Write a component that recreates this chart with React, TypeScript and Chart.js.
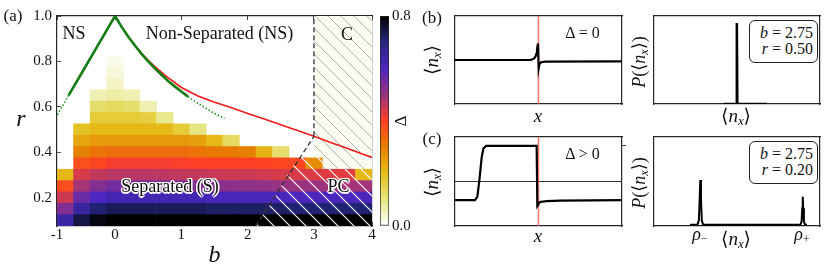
import React, { useEffect, useRef } from "react";
import { Chart, registerables } from "chart.js";

Chart.register(...registerables);

const SERIF = "'Liberation Serif', 'DejaVu Serif', 'Times New Roman', serif";
const INK = "#111111";
const FRAME = "#262626";
const N = null;

// ---------------- Panel (a): Δ over (b, r) ----------------
const heatB = [-0.75, -0.5, -0.25, 0, 0.25, 0.5, 0.75, 1, 1.25, 1.5, 1.75, 2, 2.25, 2.5, 2.75, 3, 3.25, 3.5, 3.75];
const heatR = [0.1, 0.15, 0.2, 0.25, 0.3, 0.35, 0.4, 0.45, 0.5, 0.55, 0.6, 0.65, 0.7, 0.75, 0.8];
const delta_r010 = [0.64, 0.745, 0.785, 0.8, 0.8, 0.8, 0.8, 0.8, 0.8, 0.8, 0.8, 0.8, 0.8, 0.8, 0.8, 0.8, 0.8, 0.8, 0.8];
const delta_r015 = [0.53, 0.65, 0.71, 0.73, 0.73, 0.73, 0.73, 0.73, 0.73, 0.72, 0.72, 0.72, 0.72, 0.72, 0.71, 0.71, 0.71, 0.71, 0.71];
const delta_r020 = [0.45, 0.56, 0.6, 0.62, 0.62, 0.62, 0.62, 0.62, 0.62, 0.61, 0.61, 0.61, 0.61, 0.61, 0.6, 0.6, 0.6, 0.6, 0.6];
const delta_r025 = [0.38, 0.49, 0.53, 0.55, 0.545, 0.54, 0.54, 0.535, 0.53, 0.525, 0.52, 0.515, 0.51, 0.505, 0.5, 0.5, 0.495, 0.49, 0.49];
const delta_r030 = [0.21, 0.44, 0.46, 0.47, 0.47, 0.47, 0.465, 0.46, 0.46, 0.455, 0.45, 0.45, 0.445, 0.44, 0.44, 0.435, 0.43, 0.43, 0.21];
const delta_r035 = [N, 0.375, 0.39, 0.41, 0.41, 0.41, 0.41, 0.405, 0.4, 0.4, 0.4, 0.4, 0.395, 0.39, 0.39, 0.28, N, N, N];
const delta_r040 = [N, 0.3, 0.32, 0.33, 0.33, 0.33, 0.33, 0.33, 0.32, 0.31, 0.31, 0.3, 0.22, 0.12, N, N, N, N, N];
const delta_r045 = [N, 0.24, 0.26, 0.26, 0.26, 0.26, 0.26, 0.26, 0.25, 0.21, 0.13, N, N, N, N, N, N, N, N];
const delta_r050 = [N, 0.19, 0.21, 0.21, 0.21, 0.21, 0.21, 0.17, 0.1, N, N, N, N, N, N, N, N, N, N];
const delta_r055 = [N, N, 0.17, 0.17, 0.17, 0.16, 0.09, N, N, N, N, N, N, N, N, N, N, N, N];
const delta_r060 = [N, N, 0.12, 0.13, 0.12, 0.06, N, N, N, N, N, N, N, N, N, N, N, N, N];
const delta_r065 = [N, N, 0.06, 0.07, 0.06, N, N, N, N, N, N, N, N, N, N, N, N, N, N];
const delta_r070 = [N, N, N, 0.045, N, N, N, N, N, N, N, N, N, N, N, N, N, N, N];
const delta_r075 = [N, N, N, 0.03, N, N, N, N, N, N, N, N, N, N, N, N, N, N, N];
const delta_r080 = [N, N, N, 0.015, N, N, N, N, N, N, N, N, N, N, N, N, N, N, N];
const DELTA_ROWS = [
  delta_r010, delta_r015, delta_r020, delta_r025, delta_r030, delta_r035, delta_r040, delta_r045,
  delta_r050, delta_r055, delta_r060, delta_r065, delta_r070, delta_r075, delta_r080,
];
const R_HALF = 0.025;
const DELTA_MAX = 0.8;

const B_MIN = -0.875, B_MAX = 3.875, R_MIN = 0.075, R_MAX = 1.0;
const xTickPos = [-0.875, 0, 1, 2, 3, 3.875];
const xTickLabels = ["-1", "0", "1", "2", "3", "4"];
const yTickPos = [0.2, 0.4, 0.6, 0.8, 1.0];
const yTickLabels = ["0.2", "0.4", "0.6", "0.8", "1.0"];
const cbTickPos = [0, 0.8];
const cbTickLabels = ["0.0", "0.8"];

// boundary lines
const greenSolidB = [-0.7, -0.5, -0.25, 0, 0.1, 0.2, 0.3, 0.4, 0.5, 0.6, 0.7, 0.8, 0.9, 1.0, 1.1];
const greenSolidR = [0.65, 0.75, 0.875, 1.0, 0.952, 0.909, 0.87, 0.833, 0.8, 0.769, 0.741, 0.714, 0.69, 0.667, 0.645];
const greenDotLeftB = [-0.87, -0.7];
const greenDotLeftR = [0.565, 0.65];
const greenDotRightB = [1.1, 1.2, 1.3, 1.4, 1.5, 1.65];
const greenDotRightR = [0.645, 0.625, 0.606, 0.588, 0.571, 0.548];
const redB = [0.25, 0.4, 0.5, 0.6, 0.75, 1.0, 1.25, 1.5, 1.75, 2.0, 2.25, 2.5, 2.75, 3.0, 3.25, 3.5, 3.75, 3.875];
const redR = [0.889, 0.836, 0.805, 0.777, 0.74, 0.685, 0.648, 0.62, 0.597, 0.571, 0.546, 0.521, 0.496, 0.47, 0.443, 0.417, 0.39, 0.377];
const dashVertB = [3.0, 3.0];
const dashVertR = [0.47, 1.0];
const dashDiagB = [2.12, 3.0];
const dashDiagR = [0.075, 0.47];
const cRegionB = [3.0, 3.875];
const cRegionR = [1.0, 1.0];
const pcRegionB = [2.12, 2.8125, 3.875];
const pcRegionR = [0.075, 0.4, 0.4];

// CMRmap stops (colormap)
const CMR_POS = [0, 0.125, 0.25, 0.375, 0.5, 0.625, 0.75, 0.875, 1];
const CMR_R = [0, 0.15, 0.3, 0.6, 1.0, 0.9, 0.9, 0.9, 1.0];
const CMR_G = [0, 0.15, 0.15, 0.2, 0.25, 0.5, 0.75, 0.9, 1.0];
const CMR_B = [0, 0.5, 0.75, 0.5, 0.15, 0.0, 0.1, 0.5, 1.0];

// ---------------- Panels (b), (c) ----------------
const bProfileX = [0, 0.45, 0.465, 0.475, 0.482, 0.487, 0.491, 0.494, 0.497, 0.501, 0.506, 0.515, 0.54, 1.0];
const bProfileY = [0, 0, 0.015, 0.04, 0.08, 0.14, 0.22, 0.32, 0.38, -0.19, -0.09, -0.05, -0.035, -0.03];
const cProfileX = [0, 0.12, 0.134, 0.146, 0.16, 0.17, 0.186, 0.489, 0.493, 0.509, 0.549, 0.629, 1.0];
const cProfileY = [-0.42, -0.42, -0.34, 0.03, 0.55, 0.74, 0.8, 0.8, -0.55, -0.46, -0.44, -0.43, -0.42];
const wallX = [0.5, 0.5];
const wallY = [-1, 1];
const midLineX = [0, 1];
const midLineY = [0, 0];
const bHistX = [0.42, 0.496, 0.499, 0.502, 0.68];
const bHistY = [0, 0, 0.92, 0, 0];
const cHistX = [0.217, 0.262, 0.27, 0.275, 0.279, 0.283, 0.288, 0.296, 0.882, 0.889, 0.893, 0.896, 0.899, 0.903, 0.91, 0.922];
const cHistY = [0.015, 0.015, 0.06, 0.3, 0.517, 0.3, 0.06, 0.015, 0.015, 0.05, 0.2, 0.33, 0.2, 0.05, 0.015, 0.015];
const cRightTick = [0.8];

// ---------------- helpers ----------------
function cmrmap(t: number) {
  const tt = Math.min(1, Math.max(0, t));
  let i = 0;
  while (i < CMR_POS.length - 2 && tt > CMR_POS[i + 1]) i++;
  const f = (tt - CMR_POS[i]) / (CMR_POS[i + 1] - CMR_POS[i]);
  const lerp = (a: number[]) => Math.round(255 * (a[i] + (a[i + 1] - a[i]) * f));
  return `rgb(${lerp(CMR_R)},${lerp(CMR_G)},${lerp(CMR_B)})`;
}
const deltaColor = (d: number) => cmrmap(1 - d / DELTA_MAX);
const stopColor = (i: number) =>
  `rgb(${Math.round(255 * CMR_R[i])},${Math.round(255 * CMR_G[i])},${Math.round(255 * CMR_B[i])})`;

function hatchTile(spacing: number, color: string, width: number, bg: string | null) {
  const c = document.createElement("canvas");
  c.width = spacing;
  c.height = spacing;
  const g = c.getContext("2d")!;
  if (bg) {
    g.fillStyle = bg;
    g.fillRect(0, 0, spacing, spacing);
  }
  g.strokeStyle = color;
  g.lineWidth = width;
  g.beginPath();
  g.moveTo(-1, -1); g.lineTo(spacing + 1, spacing + 1);
  g.moveTo(spacing - 1, -1); g.lineTo(spacing + 1, 1);
  g.moveTo(-1, spacing - 1); g.lineTo(1, spacing + 1);
  g.stroke();
  return c;
}

const pts = (xs: number[], ys: number[]) => xs.map((x, i) => ({ x, y: ys[i] }));

function lineSet(xs: number[], ys: number[], color: string, width: number, order: number, dash: number[] = []) {
  return {
    type: "line", data: pts(xs, ys), borderColor: color, borderWidth: width, borderDash: dash,
    pointRadius: 0, fill: false, tension: 0, order, xAxisID: "x", yAxisID: "y",
  };
}

const noPad = (s: any) => { s.paddingLeft = 0; s.paddingRight = 0; s.paddingTop = 0; s.paddingBottom = 0; };

function frameAxis(position: string, min: number, max: number, tickVals: number[] | null, tickLen: number) {
  const horiz = position === "top" || position === "bottom";
  return {
    type: "linear", position, min, max, offset: false, beginAtZero: false,
    afterBuildTicks: (s: any) => { s.ticks = (tickVals || []).map((v) => ({ value: v })); },
    ticks: { display: false },
    grid: { display: !!tickVals, offset: false, drawOnChartArea: false, drawTicks: !!tickVals, tickLength: tickLen, color: "#444", lineWidth: 1 },
    border: { display: true, color: FRAME, width: 1.2 },
    afterFit: (s: any) => { if (horiz) s.height = 0; else s.width = 0; noPad(s); },
  };
}

const baseOpts = {
  animation: false, responsive: false, maintainAspectRatio: false, events: [],
  plugins: { legend: { display: false }, tooltip: { enabled: false } },
};

// ---------------- chart configs ----------------
function makePanelA() {
  const grayTile = hatchTile(13, "rgb(178,178,178)", 1, "rgb(253,253,242)");
  const whiteTile = hatchTile(16, "rgba(255,255,255,0.95)", 1.2, null);
  const heatSets = heatR.map((r, j) => ({
    type: "bar",
    data: heatB
      .map((b, k) => ({ x: b, y: [r - R_HALF, r + R_HALF], d: DELTA_ROWS[j][k] }))
      .filter((p) => p.d !== null),
    backgroundColor: (c: any) => (c.raw ? deltaColor(c.raw.d) : "white"),
    borderWidth: 0, barPercentage: 1, categoryPercentage: 1, grouped: false, order: 20,
    xAxisID: "x", yAxisID: "y",
  }));
  const datasets = [
    {
      type: "line", data: pts(cRegionB, cRegionR), fill: "start", borderWidth: 0, pointRadius: 0,
      backgroundColor: (c: any) => c.chart.ctx.createPattern(grayTile, "repeat"), order: 40, xAxisID: "x", yAxisID: "y",
    },
    ...heatSets,
    {
      type: "line", data: pts(pcRegionB, pcRegionR), fill: "start", borderWidth: 0, pointRadius: 0,
      backgroundColor: (c: any) => c.chart.ctx.createPattern(whiteTile, "repeat"), order: 15, xAxisID: "x", yAxisID: "y",
    },
    lineSet(redB, redR, "rgb(240,25,25)", 1.6, 6),
    lineSet(dashVertB, dashVertR, "#333", 1.3, 5, [5, 3]),
    lineSet(dashDiagB, dashDiagR, "#333", 1.3, 5, [5, 3]),
    lineSet(greenDotLeftB, greenDotLeftR, "rgb(30,140,30)", 1.6, 4, [1.5, 2]),
    lineSet(greenDotRightB, greenDotRightR, "rgb(30,140,30)", 1.6, 4, [1.5, 2]),
    lineSet(greenSolidB, greenSolidR, "rgb(20,125,20)", 2.6, 3),
  ];
  return {
    type: "bar",
    data: { datasets },
    options: {
      ...baseOpts,
      layout: { padding: { left: 0, top: 16, right: 8, bottom: 0 } },
      scales: {
        x: {
          type: "linear", position: "bottom", min: B_MIN, max: B_MAX, offset: false,
          afterBuildTicks: (s: any) => { s.ticks = xTickPos.map((v) => ({ value: v })); },
          ticks: { callback: (_v: any, i: number) => xTickLabels[i], font: { family: SERIF, size: 15 }, color: INK, padding: 4, maxRotation: 0, autoSkip: false },
          grid: { offset: false, drawOnChartArea: false, drawTicks: true, tickLength: -4, color: "#555" },
          border: { display: true, color: FRAME, width: 1.2 },
          title: { display: true, text: "b", font: { family: SERIF, size: 24, style: "italic" }, color: INK, padding: { top: 0, bottom: 7 } },
          afterFit: (s: any) => { s.height = 51; noPad(s); },
        },
        x2: frameAxis("top", B_MIN, B_MAX, xTickPos, -4),
        y: {
          type: "linear", position: "left", min: R_MIN, max: R_MAX, beginAtZero: false,
          afterBuildTicks: (s: any) => { s.ticks = yTickPos.map((v) => ({ value: v })); },
          ticks: { callback: (_v: any, i: number) => yTickLabels[i], font: { family: SERIF, size: 15 }, color: INK, padding: 9, autoSkip: false },
          grid: { drawOnChartArea: false, drawTicks: true, tickLength: -4, color: "#555" },
          border: { display: true, color: FRAME, width: 1.2 },
          afterFit: (s: any) => { s.width = 57; noPad(s); },
        },
        y2: frameAxis("right", R_MIN, R_MAX, yTickPos, -4),
      },
    },
  };
}

function makeColorbar() {
  return {
    type: "bar",
    data: {
      labels: ["Δ"],
      datasets: [{
        data: [[0, DELTA_MAX]],
        backgroundColor: (c: any) => {
          const a = c.chart.chartArea;
          if (!a) return "white";
          const g = c.chart.ctx.createLinearGradient(0, a.bottom, 0, a.top);
          CMR_POS.forEach((p, i) => g.addColorStop(1 - p, stopColor(i)));
          return g;
        },
        borderColor: FRAME, borderWidth: 1, borderSkipped: false, barPercentage: 1, categoryPercentage: 1,
      }],
    },
    options: {
      ...baseOpts,
      layout: { padding: { left: 4, top: 16, right: 0, bottom: 51 } },
      scales: {
        x: { display: false },
        y: {
          type: "linear", position: "right", min: 0, max: DELTA_MAX, beginAtZero: false,
          afterBuildTicks: (s: any) => { s.ticks = cbTickPos.map((v) => ({ value: v })); },
          ticks: { callback: (_v: any, i: number) => cbTickLabels[i], font: { family: SERIF, size: 15 }, color: INK, padding: 3 },
          grid: { drawOnChartArea: false, drawTicks: false },
          border: { display: false },
          afterFit: (s: any) => { s.width = 31; noPad(s); },
        },
      },
    },
  };
}

const PAD = 12;
function makeSmall(datasets: any[], yMin: number, yMax: number, rightTicks: number[] | null) {
  return {
    type: "line",
    data: { datasets },
    options: {
      ...baseOpts,
      layout: { padding: PAD },
      scales: {
        x: frameAxis("bottom", 0, 1, null, 0),
        x2: frameAxis("top", 0, 1, null, 0),
        y: frameAxis("left", yMin, yMax, null, 0),
        y2: frameAxis("right", yMin, yMax, rightTicks, 4),
      },
    },
  };
}

const makeBLeft = () => makeSmall([
  lineSet(bProfileX, bProfileY, "#000", 2.2, 1),
  lineSet(wallX, wallY, "rgba(255,90,90,0.85)", 1.5, 2),
], -1, 1, null);
const makeCLeft = () => makeSmall([
  lineSet(cProfileX, cProfileY, "#000", 2.2, 1),
  lineSet(wallX, wallY, "rgba(255,90,90,0.85)", 1.5, 2),
  lineSet(midLineX, midLineY, "#333", 1, 3),
], -1, 1, cRightTick);
const makeBRight = () => makeSmall([lineSet(bHistX, bHistY, "#000", 2.5, 1)], 0, 1, null);
const makeCRight = () => makeSmall([lineSet(cHistX, cHistY, "#000", 2, 1)], 0, 1, null);

// ---------------- components ----------------
function ChartBox({ left, top, width, height, make }: { left: number; top: number; width: number; height: number; make: () => any }) {
  const ref = useRef<HTMLCanvasElement>(null);
  useEffect(() => {
    const chart = new Chart(ref.current as HTMLCanvasElement, make());
    return () => chart.destroy();
  }, []);
  return <canvas ref={ref} width={width} height={height} style={{ position: "absolute", left, top, width, height }} />;
}

function Small({ box, make }: { box: number[]; make: () => any }) {
  const [x0, y0, x1, y1] = box;
  return <ChartBox left={x0 - PAD} top={y0 - PAD} width={x1 - x0 + 2 * PAD} height={y1 - y0 + 2 * PAD} make={make} />;
}

const HALO = "-1.5px 0 #fff, 1.5px 0 #fff, 0 -1.5px #fff, 0 1.5px #fff, -1px -1px #fff, 1px -1px #fff, -1px 1px #fff, 1px 1px #fff";

function T({ x, y, size = 16, italic = false, rot = 0, halo = false, children }: any) {
  return (
    <div style={{
      position: "absolute", left: x, top: y, transform: `translate(-50%, -50%) rotate(${rot}deg)`,
      fontFamily: SERIF, fontSize: size, fontStyle: italic ? "italic" : "normal", lineHeight: 1,
      whiteSpace: "nowrap", color: INK, textShadow: halo ? HALO : undefined,
    }}>{children}</div>
  );
}

const subStyle = { fontSize: "0.68em", verticalAlign: "-0.28em", lineHeight: 0 };
const Nx = () => (<span>⟨<i>n</i><sub style={subStyle}><i>x</i></sub>⟩</span>);

function Legend({ top, b, r }: { top: number; b: string; r: string }) {
  return (
    <div style={{
      position: "absolute", left: 749, top, width: 69, height: 43, boxSizing: "border-box",
      border: "1px solid #222", borderRadius: 6, background: "#fff", fontFamily: SERIF, fontSize: 16,
      lineHeight: "16px", textAlign: "right", paddingRight: 4, paddingTop: 4, color: INK,
    }}>
      <div><i>b</i> = {b}</div>
      <div><i>r</i> = {r}</div>
    </div>
  );
}

export default function App() {
  return (
    <div style={{ position: "absolute", left: 0, top: 0, width: 830, height: 277, background: "#fff", overflow: "hidden" }}>
      <ChartBox left={0} top={0} width={380} height={277} make={makePanelA} />
      <ChartBox left={376} top={0} width={44} height={277} make={makeColorbar} />
      <Small box={[455, 16, 622, 104]} make={makeBLeft} />
      <Small box={[455, 137, 622, 226]} make={makeCLeft} />
      <Small box={[654, 16, 820, 104]} make={makeBRight} />
      <Small box={[654, 137, 820, 226]} make={makeCRight} />

      <T x={13} y={14.5} size={17}>(a)</T>
      <T x={74} y={33} size={18}>NS</T>
      <T x={219.5} y={33} size={18}>Non-Separated (NS)</T>
      <T x={347} y={34} size={18}>C</T>
      <T x={170} y={186} size={18} halo>Separated (S)</T>
      <T x={338.5} y={186} size={18} halo>PC</T>
      <T x={21} y={117.5} size={24} italic>r</T>
      <T x={400} y={121} size={17} rot={-90}>Δ</T>

      <T x={432} y={17} size={17}>(b)</T>
      <T x={432} y={138} size={17}>(c)</T>
      <T x={582.5} y={33} size={16}>Δ = 0</T>
      <T x={582.5} y={154} size={16}>Δ &gt; 0</T>
      <T x={431} y={60} size={19} rot={-90}><Nx /></T>
      <T x={431} y={181.5} size={19} rot={-90}><Nx /></T>
      <T x={538} y={115} size={19} italic>x</T>
      <T x={538} y={235} size={19} italic>x</T>
      <T x={639} y={61.5} size={18} rot={-90}><span><i>P</i>(<Nx />)</span></T>
      <T x={639} y={183} size={18} rot={-90}><span><i>P</i>(<Nx />)</span></T>
      <T x={736} y={115} size={19}><Nx /></T>
      <T x={736} y={238} size={19}><Nx /></T>
      <T x={700} y={234} size={18}><span><i>ρ</i><sub style={subStyle}>−</sub></span></T>
      <T x={802} y={234} size={18}><span><i>ρ</i><sub style={subStyle}>+</sub></span></T>
      <Legend top={20} b="2.75" r="0.50" />
      <Legend top={141} b="2.75" r="0.20" />
    </div>
  );
}
